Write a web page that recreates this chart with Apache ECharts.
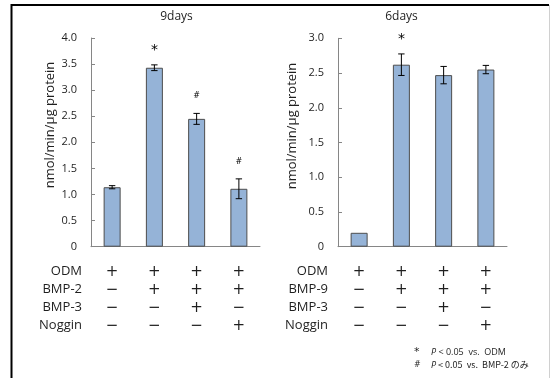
<!DOCTYPE html>
<html><head><meta charset="utf-8">
<script src="https://cdn.jsdelivr.net/npm/echarts@6/dist/echarts.min.js"></script>
<style>html,body{margin:0;padding:0;background:#fff}#c{width:551px;height:378px}</style>
</head><body><div id="c"></div>
<script>
// ---- data ----
const categories = ['G1', 'G2', 'G3', 'G4'];
const title9 = '9days';
const title6 = '6days';
const yName = 'nmol/min/μg protein';
const values9 = [1.14, 3.43, 2.45, 1.11];
const errors9 = [0.03, 0.055, 0.105, 0.19];
const marks9 = ['', '*', '#', '#'];
const values6 = [0.20, 2.62, 2.47, 2.55];
const errors6 = [0.0, 0.155, 0.125, 0.06];
const marks6 = ['', '*', '', ''];
const rowLabels9 = ['ODM', 'BMP-2', 'BMP-3', 'Noggin'];
const rowLabels6 = ['ODM', 'BMP-9', 'BMP-3', 'Noggin'];
// condition signs per category (rows: ODM, BMP, BMP-3, Noggin)
const conditions = [
  ['+', '−', '−', '−'],
  ['+', '+', '−', '−'],
  ['+', '+', '+', '−'],
  ['+', '+', '−', '+']
];
const yMax9 = 4.0, yMax6 = 3.0, yStep = 0.5;
const footnote1 = ['*', 'P', ' < 0.05  vs.  ODM'];
const footnote2 = ['#', 'P', ' < 0.05  vs.  BMP-2 のみ'];

const FONT = '"Open Sans", "Noto Sans", "Noto Sans CJK JP", sans-serif';
const SYM = '"DejaVu Sans", sans-serif';
const TXT = '#1f1f1f';

const chart = echarts.init(document.getElementById('c'), null, {renderer: 'canvas'});

function errData(vals, errs) {
  return vals.map((v, i) => [i, v, errs[i]]);
}
const errsMarks = {2: marks9, 3: marks6};
function errRender(params, api) {
  const i = api.value(0), v = api.value(1), e = api.value(2);
  const mark = errsMarks[params.seriesIndex][params.dataIndex];
  const top = api.coord([i, v + e]);
  const bot = api.coord([i, v - e]);
  const x = top[0];
  const cap = 3.2;
  const children = [];
  if (e > 0) {
    children.push(
      {type: 'line', shape: {x1: x, y1: top[1], x2: x, y2: bot[1]}, style: {stroke: '#000', lineWidth: 1}},
      {type: 'line', shape: {x1: x - cap, y1: top[1], x2: x + cap, y2: top[1]}, style: {stroke: '#000', lineWidth: 1}},
      {type: 'line', shape: {x1: x - cap, y1: bot[1], x2: x + cap, y2: bot[1]}, style: {stroke: '#000', lineWidth: 1}}
    );
  }
  if (mark) {
    children.push({type: 'text', x: x, y: top[1] - (mark === '*' ? 15 : 17),
      style: {text: mark, fill: '#000', font: (mark === '*' ? '14px ' : '8px ') + SYM, align: 'center', verticalAlign: 'middle'}});
  }
  return {type: 'group', children: children};
}

function xLabel(idx) {
  return conditions[idx].join('\n');
}

function yAxisCfg(gridIndex, max) {
  return {
    gridIndex: gridIndex, type: 'value', min: 0, max: max, interval: yStep,
    axisLine: {show: true, lineStyle: {color: '#868686', width: 1}},
    axisTick: {show: true, inside: true, length: 4, lineStyle: {color: '#868686'}},
    splitLine: {show: false},
    axisLabel: {fontFamily: FONT, fontSize: 11, color: TXT, margin: 14,
      formatter: v => v === 0 ? '0' : v.toFixed(1)}
  };
}
function xAxisCfg(gridIndex) {
  return {
    gridIndex: gridIndex, type: 'category', data: categories,
    axisLine: {show: true, lineStyle: {color: '#868686', width: 1}},
    axisTick: {show: false},
    axisLabel: {fontFamily: SYM, fontSize: 15, color: TXT, lineHeight: 18, margin: 16,
      formatter: (val, idx) => xLabel(idx)}
  };
}

const option = {
  animation: false,
  backgroundColor: '#fff',
  grid: [
    {left: 91, top: 38, width: 169, height: 208.7},
    {left: 338, top: 38.3, width: 169, height: 208.4}
  ],
  xAxis: [xAxisCfg(0), xAxisCfg(1)],
  yAxis: [yAxisCfg(0, yMax9), yAxisCfg(1, yMax6)],
  series: [
    {type: 'bar', xAxisIndex: 0, yAxisIndex: 0, data: values9, barWidth: 17,
      itemStyle: {color: '#95B3D7', borderColor: '#4d4d4d', borderWidth: 1}},
    {type: 'bar', xAxisIndex: 1, yAxisIndex: 1, data: values6, barWidth: 17,
      itemStyle: {color: '#95B3D7', borderColor: '#4d4d4d', borderWidth: 1}},
    {type: 'custom', xAxisIndex: 0, yAxisIndex: 0, data: errData(values9, errors9), renderItem: errRender, z: 5},
    {type: 'custom', xAxisIndex: 1, yAxisIndex: 1, data: errData(values6, errors6), renderItem: errRender, z: 5}
  ],
  graphic: [
    // frame
    {type: 'line', shape: {x1: 11.5, y1: 4, x2: 11.5, y2: 378}, style: {stroke: '#000', lineWidth: 2}},
    {type: 'line', shape: {x1: 11, y1: 5, x2: 549, y2: 5}, style: {stroke: '#000', lineWidth: 2}},
    {type: 'line', shape: {x1: 549.5, y1: 5, x2: 549.5, y2: 378}, style: {stroke: '#d0d0d0', lineWidth: 1}},
    // titles
    {type: 'text', x: 176.5, y: 17, style: {text: title9, font: '12px ' + FONT, fill: TXT, align: 'center', verticalAlign: 'middle'}},
    {type: 'text', x: 401.5, y: 17, style: {text: title6, font: '12px ' + FONT, fill: TXT, align: 'center', verticalAlign: 'middle'}},
    // y axis names
    {type: 'text', x: 50, y: 125, rotation: Math.PI / 2, style: {text: yName, font: '13px ' + FONT, fill: TXT, align: 'center', verticalAlign: 'middle'}},
    {type: 'text', x: 292, y: 126, rotation: Math.PI / 2, style: {text: yName, font: '13px ' + FONT, fill: TXT, align: 'center', verticalAlign: 'middle'}},
    // row labels
    {type: 'text', x: 82, y: 262.7, style: {text: rowLabels9.join('\n'), font: '13px ' + FONT, lineHeight: 18, fill: TXT, align: 'right', verticalAlign: 'top'}},
    {type: 'text', x: 328, y: 262.7, style: {text: rowLabels6.join('\n'), font: '13px ' + FONT, lineHeight: 18, fill: TXT, align: 'right', verticalAlign: 'top'}},
    // footnotes
    {type: 'text', x: 414, y: 352, style: {
      text: '{s|' + footnote1[0] + '}{i|' + footnote1[1] + '}{n|' + footnote1[2] + '}',
      verticalAlign: 'middle', fill: TXT,
      rich: {s: {font: '11px ' + SYM, width: 17, fill: TXT}, i: {font: 'italic 9px ' + FONT, fill: TXT}, n: {font: '9px ' + FONT, fill: TXT}}}},
    {type: 'text', x: 414, y: 365, style: {
      text: '{s|' + footnote2[0] + '}{i|' + footnote2[1] + '}{n|' + footnote2[2] + '}',
      verticalAlign: 'middle', fill: TXT,
      rich: {s: {font: '8px ' + SYM, width: 17, fill: TXT}, i: {font: 'italic 9px ' + FONT, fill: TXT}, n: {font: '9px "Noto Sans CJK JP", ' + FONT, fill: TXT}}}}
  ]
};
chart.setOption(option);
</script>
</body></html>
